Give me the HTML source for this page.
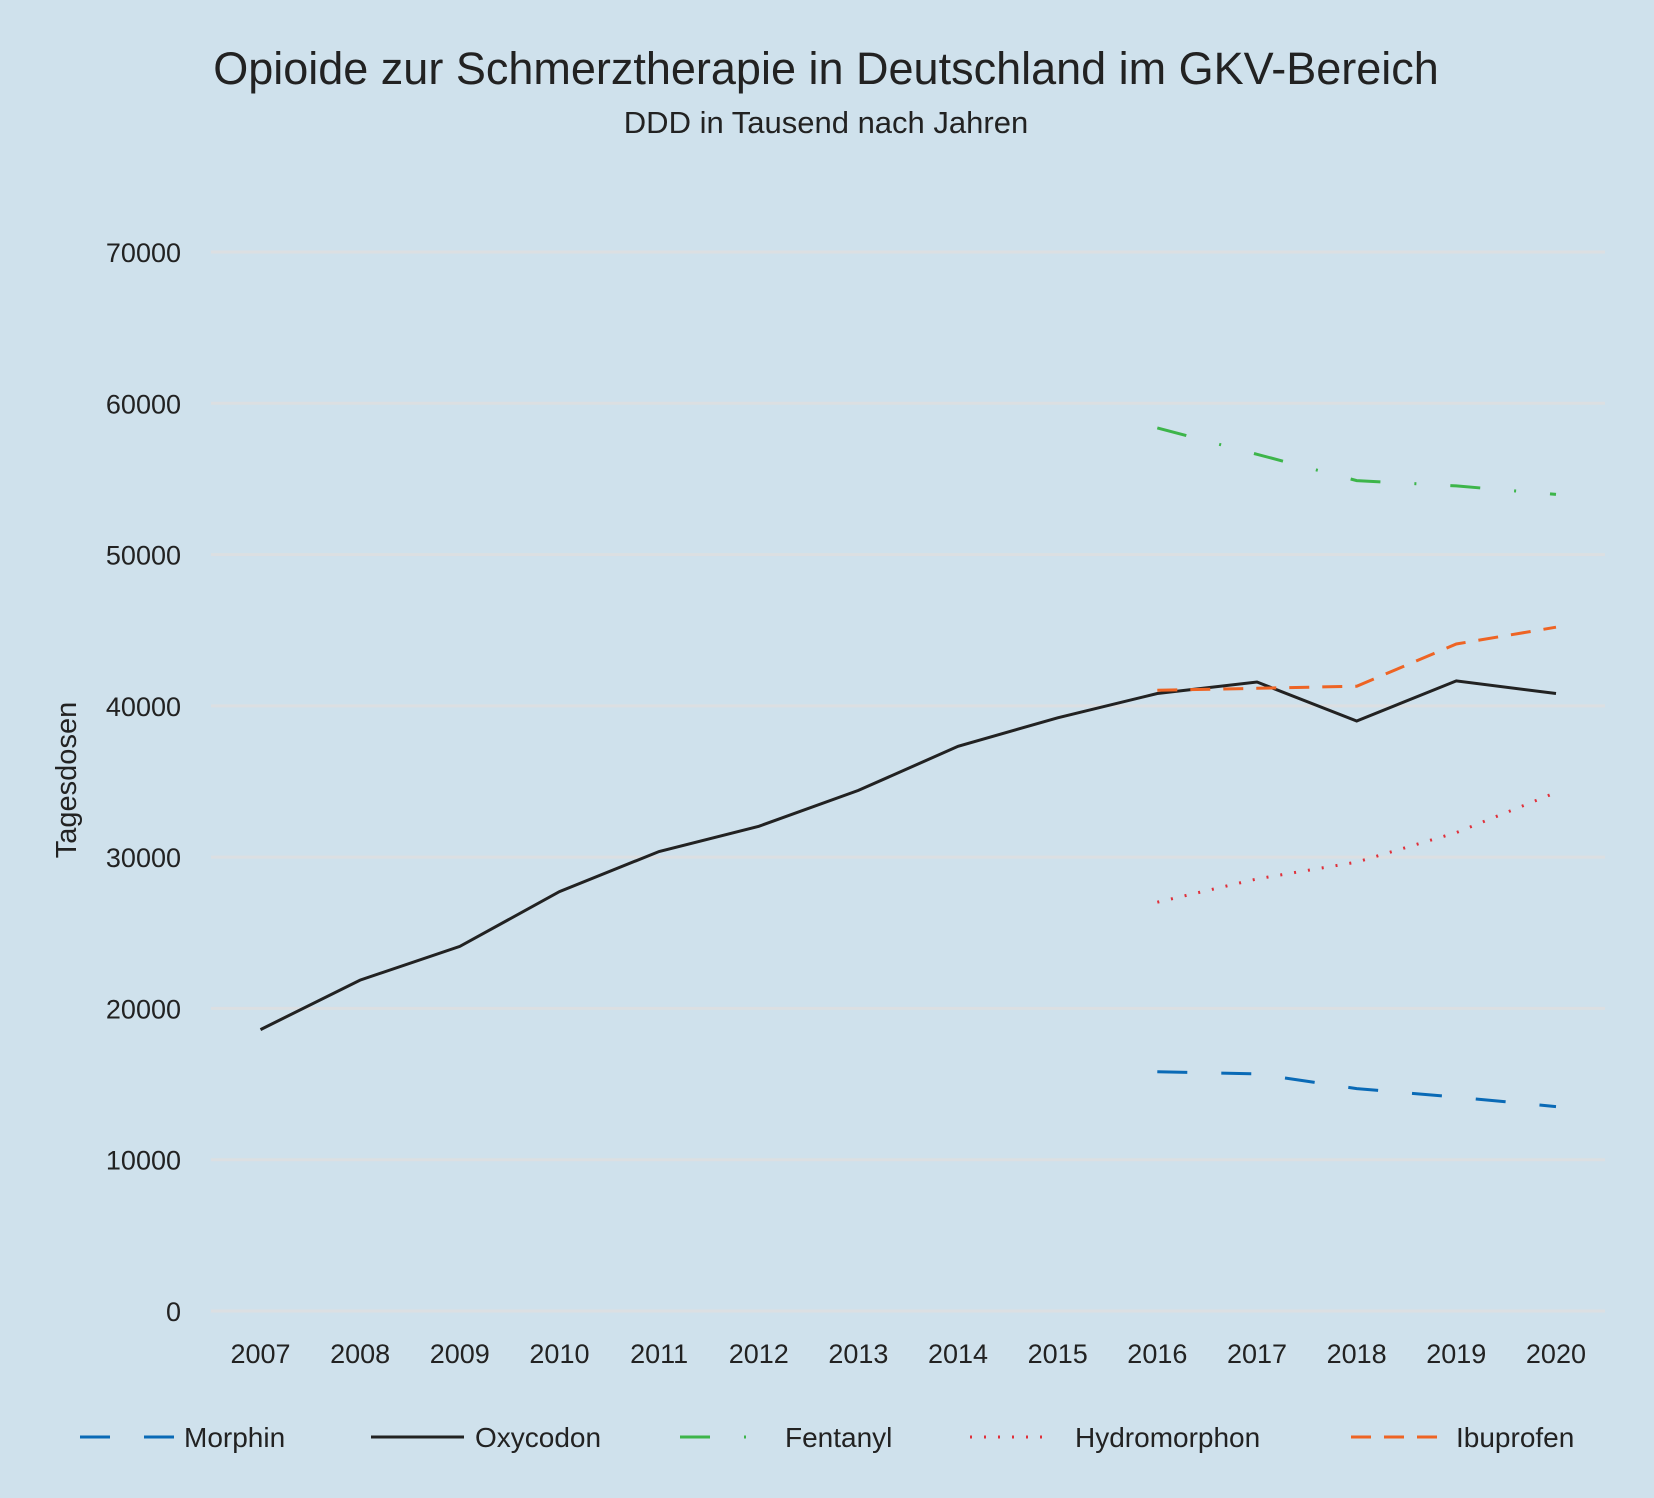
<!DOCTYPE html>
<html><head><meta charset="utf-8"><style>
html,body{margin:0;padding:0;background:#cfe1ec;}
svg{display:block;font-family:"Liberation Sans",sans-serif;}
</style></head><body>
<svg id="chart" width="1654" height="1498" viewBox="0 0 1654 1498" xmlns="http://www.w3.org/2000/svg">
<rect width="1654" height="1498" fill="#cfe1ec"/>
<text x="826" y="84" text-anchor="middle" font-size="45" fill="#222">Opioide zur Schmerztherapie in Deutschland im GKV-Bereich</text>
<text x="826" y="133" text-anchor="middle" font-size="31" fill="#222">DDD in Tausend nach Jahren</text>
<text transform="translate(76,780) rotate(-90)" text-anchor="middle" font-size="29" fill="#222">Tagesdosen</text>
<g id="grid"></g><g id="series"></g><g id="legend"></g>
</svg>
<script>
const years=[2007,2008,2009,2010,2011,2012,2013,2014,2015,2016,2017,2018,2019,2020];
const yTicks=[0,10000,20000,30000,40000,50000,60000,70000];
const oxycodon=[18600,21870,24100,27720,30370,32040,34410,37330,39210,40820,41580,39000,41650,40820];
const fentanyl=[null,null,null,null,null,null,null,null,null,58370,56630,54890,54540,53980];
const hydromorphon=[null,null,null,null,null,null,null,null,null,27020,28560,29670,31620,34270];
const ibuprofen=[null,null,null,null,null,null,null,null,null,41030,41160,41300,44090,45200];
const morphin=[null,null,null,null,null,null,null,null,null,15810,15670,14700,14140,13510];
const NS="http://www.w3.org/2000/svg";
const x=i=>260.5+i*99.65;
const y=v=>1311-v*(1311-252)/70000;
const grid=document.getElementById('grid');
yTicks.forEach(t=>{
  const l=document.createElementNS(NS,'line');
  l.setAttribute('x1',211);l.setAttribute('x2',1605);l.setAttribute('y1',y(t));l.setAttribute('y2',y(t));
  l.setAttribute('stroke','#dcdfe2');l.setAttribute('stroke-width',3);
  
  
  grid.appendChild(l);
  const tx=document.createElementNS(NS,'text');
  tx.setAttribute('x',181);tx.setAttribute('y',y(t)+10);tx.setAttribute('text-anchor','end');tx.setAttribute('font-size',27);tx.setAttribute('fill','#222');
  tx.textContent=t;
  
  
  grid.appendChild(tx);
});
years.forEach((yr,i)=>{
  const tx=document.createElementNS(NS,'text');
  tx.setAttribute('x',x(i));tx.setAttribute('y',1363);tx.setAttribute('text-anchor','middle');tx.setAttribute('font-size',27);tx.setAttribute('fill','#222');
  tx.textContent=yr;
  
  
  grid.appendChild(tx);
});
const defs=[
 {name:'morphin',label:'Morphin',data:morphin,color:'#0a6ab6',dash:'30 34',lx:80,lx2:174,tx:184},
 {name:'oxycodon',label:'Oxycodon',data:oxycodon,color:'#222222',dash:'',lx:371,lx2:464,tx:475},
 {name:'fentanyl',label:'Fentanyl',data:fentanyl,color:'#3db54a',dash:'30 34 2 34',lx:680,lx2:747,tx:785},
 {name:'hydromorphon',label:'Hydromorphon',data:hydromorphon,color:'#e0303a',dash:'2 12',lx:970,lx2:1050,tx:1075},
 {name:'ibuprofen',label:'Ibuprofen',data:ibuprofen,color:'#ee6424',dash:'20 13',lx:1351,lx2:1445,tx:1456}
];
const sg=document.getElementById('series'),lg=document.getElementById('legend');
defs.forEach(d=>{
  const pts=[];d.data.forEach((v,i)=>{if(v!==null)pts.push(x(i).toFixed(1)+','+y(v).toFixed(1));});
  const p=document.createElementNS(NS,'polyline');
  p.setAttribute('points',pts.join(' '));p.setAttribute('fill','none');p.setAttribute('stroke',d.color);p.setAttribute('stroke-width',3);
  if(d.dash)p.setAttribute('stroke-dasharray',d.dash);
  
  
  sg.appendChild(p);
  const l=document.createElementNS(NS,'line');
  l.setAttribute('x1',d.lx);l.setAttribute('x2',d.lx2);l.setAttribute('y1',1437);l.setAttribute('y2',1437);
  l.setAttribute('stroke',d.color);l.setAttribute('stroke-width',3);
  if(d.dash)l.setAttribute('stroke-dasharray',d.dash);
  
  
  lg.appendChild(l);
  const t=document.createElementNS(NS,'text');
  t.setAttribute('x',d.tx);t.setAttribute('y',1447);t.setAttribute('font-size',28);t.setAttribute('fill','#222');
  t.textContent=d.label;
  
  
  lg.appendChild(t);
});
</script>
</body></html>
